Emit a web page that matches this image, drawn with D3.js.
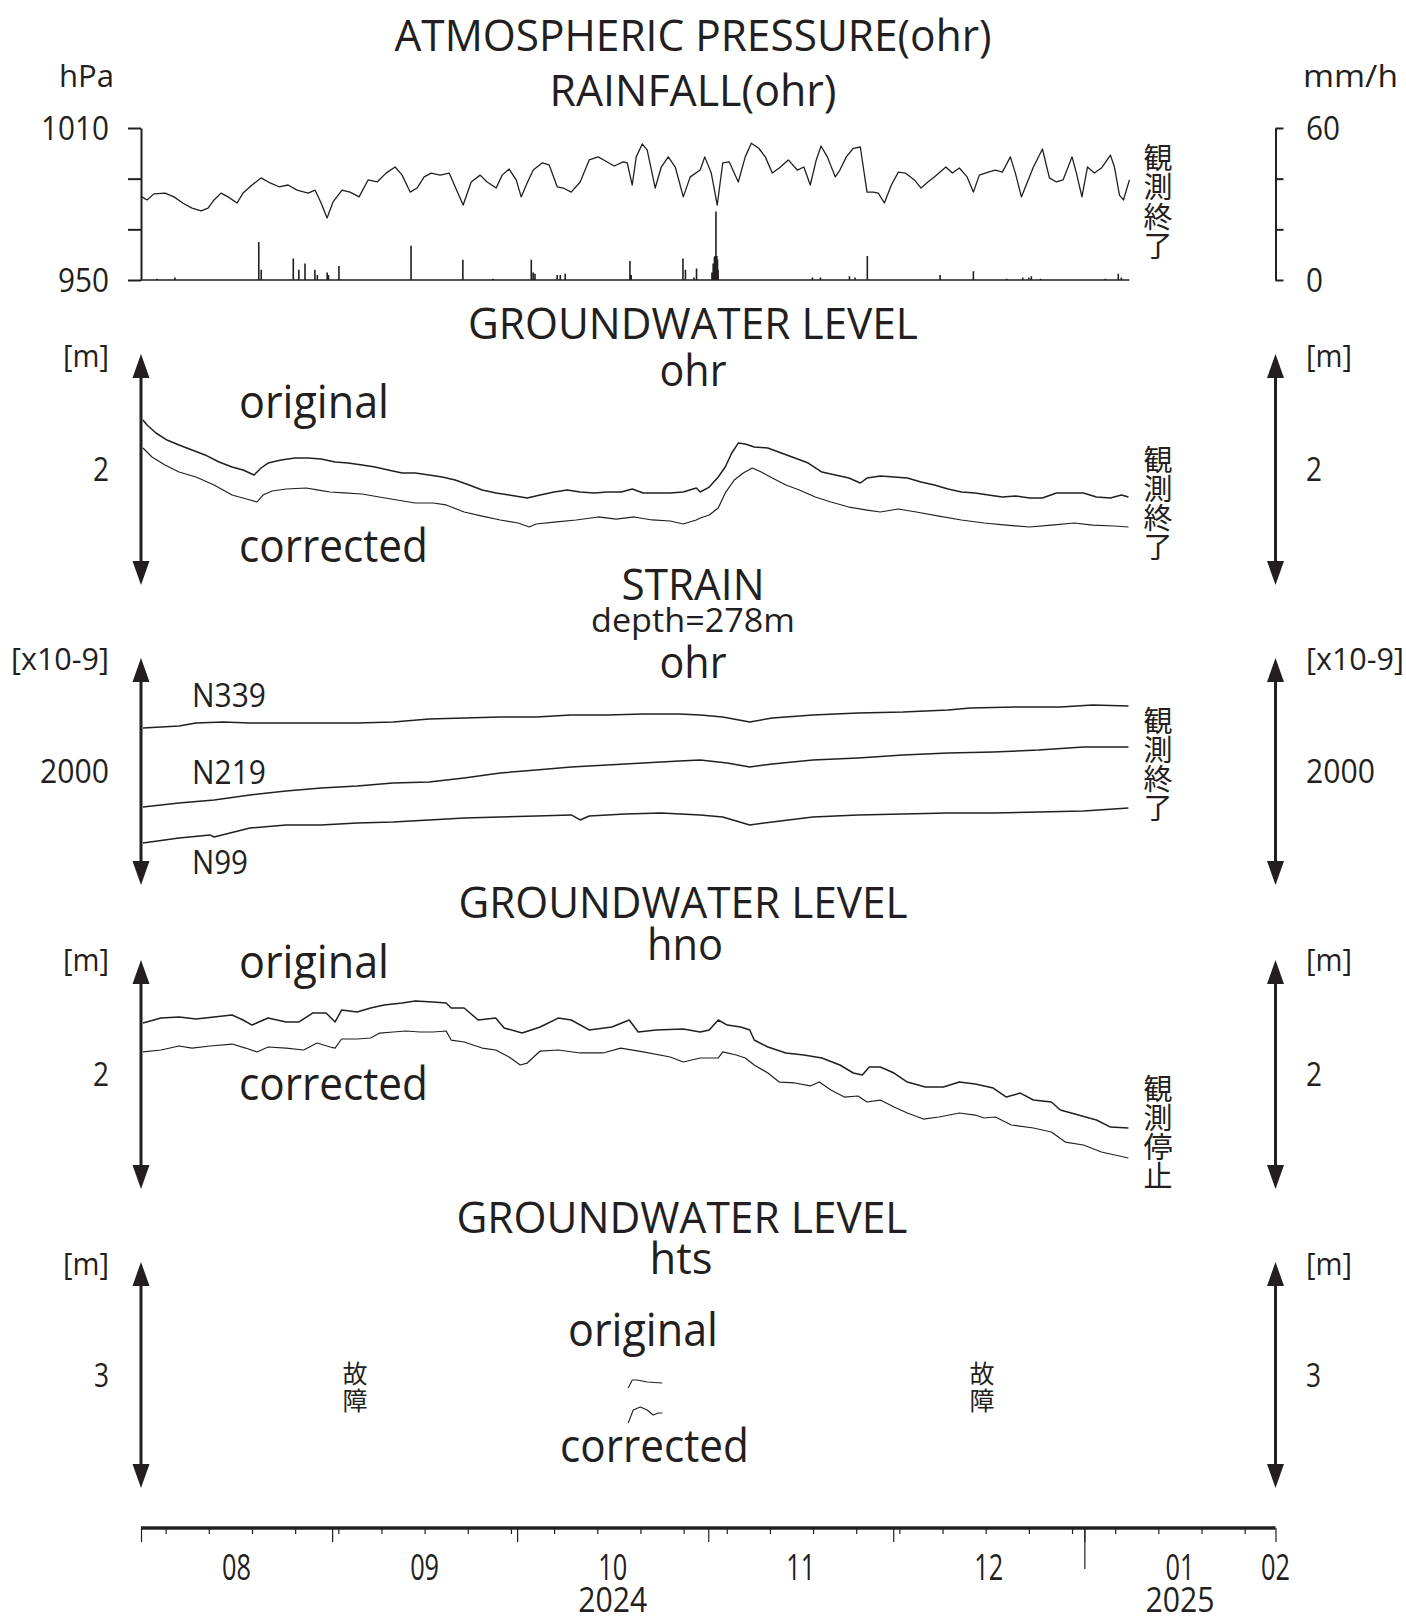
<!DOCTYPE html>
<html>
<head>
<meta charset="utf-8">
<script src="https://cdn.jsdelivr.net/npm/d3@7"></script>
<style>
  html, body { margin: 0; padding: 0; background: #fff; }
  svg { display: block; }
  text { font-family: "Open Sans", "Noto Sans", sans-serif; fill: #231f20; }
  text.cjk { font-family: "Noto Sans CJK JP", sans-serif; writing-mode: vertical-rl; text-orientation: upright; }
</style>
</head>
<body>
<svg id="chart" width="1406" height="1622"></svg>
<script>
// ---------------------------------------------------------------
// Observation records. Time is given in days elapsed since
// 2024-08-01 00:00; values are in the unit of each panel.
// ---------------------------------------------------------------
const recordStart = Date.UTC(2024, 7, 1);
const recordEndDay = 160.3;            // last sample before the station stopped

// atmospheric pressure at ohr [hPa]
const pressure = [
  [0.16,982.8],[0.97,981.6],[2.11,984.0],[3.89,984.3],[5.35,982.8],[6.82,980.3],[8.28,978.4],
  [9.74,977.3],[10.87,978.4],[11.85,981.6],[12.98,984.3],[14.12,982.8],[15.58,980.4],[16.55,984.3],
  [18.01,987.5],[19.47,990.3],[20.93,988.3],[22.39,986.8],[23.85,987.5],[25.31,985.5],[27.10,984.3],
  [28.23,985.5],[29.21,980.4],[30.18,974.5],[31.15,980.8],[32.61,985.5],[33.91,984.7],[35.37,982.8],
  [36.83,989.5],[38.29,988.7],[39.75,992.2],[41.21,994.6],[42.35,991.4],[43.65,984.7],[44.78,986.3],
  [45.92,990.7],[47.05,992.2],[48.52,991.4],[49.98,992.2],[50.95,986.8],[52.25,979.6],[53.55,988.7],
  [55.01,991.4],[56.14,988.7],[57.60,986.3],[58.58,991.4],[59.71,993.8],[60.85,989.5],[61.66,982.8],
  [62.63,988.3],[63.61,993.4],[65.07,996.2],[66.20,995.4],[67.50,986.8],[68.48,986.3],[69.77,984.7],
  [71.23,988.7],[72.69,997.4],[74.15,998.6],[75.61,996.6],[76.75,995.0],[78.21,996.6],[78.86,996.2],
  [79.67,987.5],[80.32,998.6],[81.29,1003.7],[82.10,1001.3],[83.40,986.3],[84.38,994.6],[85.51,998.6],
  [86.65,994.6],[87.95,982.8],[89.08,990.7],[90.70,993.4],[91.43,998.6],[92.49,992.2],[93.46,979.6],
  [94.35,996.2],[95.41,996.6],[96.87,988.7],[98.00,998.6],[98.98,1004.0],[100.19,1002.0],[101.25,998.6],
  [102.38,992.2],[103.52,994.2],[104.98,997.4],[106.44,993.4],[107.51,994.6],[108.55,987.5],[109.52,997.4],
  [110.29,1002.9],[111.31,998.6],[112.61,990.7],[113.35,993.4],[114.39,998.6],[115.53,1002.0],[116.66,1002.5],
  [117.75,984.7],[118.77,984.7],[119.58,984.3],[120.56,980.4],[121.70,987.5],[122.83,992.6],[123.97,992.2],
  [125.43,989.5],[126.51,986.3],[127.62,988.7],[128.67,990.7],[130.54,994.6],[131.59,992.2],[132.73,994.2],
  [133.98,990.7],[135.00,984.7],[135.97,991.4],[137.43,992.6],[138.57,993.4],[139.70,992.6],[141.00,998.6],
  [141.81,992.2],[142.79,982.8],[143.70,988.3],[144.74,994.6],[146.20,1001.7],[147.33,990.3],[148.47,988.7],
  [149.54,989.5],[151.00,998.6],[151.71,992.2],[152.61,982.8],[153.50,994.6],[154.63,992.2],[155.77,994.2],
  [157.23,999.3],[157.88,994.6],[158.69,983.5],[159.34,981.6],[160.31,989.5]
];

// hourly rainfall at ohr [mm/h], hours with rain only
const rainfall = [
  [2.6,0.5],[5.5,1.0],[19.1,15.0],[19.5,4.0],[24.7,8.5],[25.6,4.0],[26.6,6.5],[28.2,4.0],[28.6,2.0],
  [30.2,3.0],[30.4,2.0],[32.1,5.5],[43.8,13.5],[52.2,8.0],[57.1,0.5],[63.3,8.0],[63.6,3.0],[63.9,2.5],
  [67.5,2.0],[68.0,2.0],[68.8,2.5],[79.3,7.5],[79.5,2.0],[87.9,8.5],[88.3,4.0],[89.7,1.0],[90.1,4.5],
  [92.6,3.0],[92.8,6.5],[93.0,9.0],[93.1,9.5],[93.25,27.0],[93.4,9.5],[93.5,8.0],[93.6,4.0],
  [108.9,1.0],[110.2,1.0],[114.9,1.5],[115.8,1.0],[117.8,9.5],[129.6,2.0],[135.0,3.5],[140.4,0.5],
  [143.0,1.0],[144.0,1.0],[144.4,1.5],[145.9,0.5],[156.4,0.5],[158.5,2.5],[159.0,1.0]
];

// groundwater level at ohr [m, relative]
const ohrOriginal = [
  [0.32,1.429],[0.97,1.385],[2.43,1.316],[4.22,1.255],[6.17,1.212],[8.28,1.169],[10.39,1.126],[12.66,1.065],
  [14.77,1.022],[16.55,0.996],[18.34,0.952],[19.47,1.013],[20.61,1.056],[22.72,1.082],[24.99,1.100],[27.10,1.100],
  [29.21,1.091],[31.48,1.065],[33.59,1.056],[35.86,1.039],[37.97,1.022],[40.08,0.996],[42.35,0.970],[44.46,0.970],
  [46.73,0.952],[48.84,0.935],[50.95,0.909],[53.22,0.866],[55.33,0.823],[57.60,0.797],[59.71,0.779],[62.63,0.753],
  [64.74,0.779],[67.01,0.805],[69.12,0.823],[71.23,0.805],[73.50,0.797],[75.61,0.805],[77.88,0.805],[79.67,0.831],
  [81.45,0.797],[83.56,0.797],[85.83,0.797],[87.95,0.805],[90.05,0.840],[90.70,0.805],[92.16,0.848],[93.62,0.935],
  [94.76,1.022],[95.81,1.143],[96.87,1.229],[98.00,1.221],[99.46,1.195],[101.67,1.186],[103.84,1.143],[106.05,1.100],
  [108.22,1.056],[110.43,0.978],[112.61,0.952],[114.81,0.926],[116.66,0.883],[117.75,0.926],[119.91,0.944],[122.13,0.935],
  [124.29,0.926],[126.51,0.892],[128.67,0.866],[130.89,0.831],[133.05,0.805],[135.29,0.797],[137.43,0.779],[139.70,0.762],
  [141.81,0.771],[144.09,0.753],[146.20,0.753],[148.47,0.797],[150.58,0.797],[152.85,0.797],[154.96,0.762],[157.23,0.753],
  [159.02,0.779],[160.15,0.762]
];
const ohrCorrected = [
  [0.32,1.186],[1.78,1.108],[3.89,1.039],[6.17,0.978],[8.92,0.935],[11.85,0.866],[14.77,0.779],[17.69,0.736],
  [18.82,0.719],[19.80,0.779],[21.26,0.814],[23.53,0.831],[26.77,0.840],[28.56,0.823],[30.67,0.805],[32.94,0.797],
  [35.86,0.788],[38.62,0.762],[41.54,0.736],[44.46,0.710],[47.38,0.710],[49.49,0.693],[52.41,0.632],[55.33,0.597],
  [58.25,0.563],[61.17,0.537],[62.96,0.502],[64.09,0.528],[67.01,0.545],[70.58,0.563],[74.15,0.589],[77.07,0.571],
  [79.99,0.589],[82.91,0.563],[85.83,0.554],[87.95,0.528],[90.05,0.563],[90.70,0.580],[92.16,0.606],[93.62,0.667],
  [94.76,0.797],[96.22,0.909],[97.68,0.970],[99.14,1.013],[100.60,0.978],[102.38,0.926],[104.59,0.866],[106.77,0.823],
  [109.36,0.762],[111.89,0.719],[114.81,0.675],[117.75,0.649],[119.91,0.632],[122.83,0.658],[125.75,0.632],[129.43,0.597],
  [133.05,0.563],[136.75,0.537],[140.35,0.519],[144.09,0.502],[147.65,0.519],[151.38,0.537],[154.31,0.519],[157.88,0.511],
  [160.15,0.502]
];

// borehole strain at ohr, depth 278 m [x10^-9, relative]
const strainN339 = [
  [0.32,1383],[3.25,1392],[6.17,1401],[8.92,1427],[13.31,1436],[17.69,1427],[23.53,1427],[29.21,1427],
  [35.05,1427],[40.89,1436],[46.73,1463],[52.41,1471],[58.25,1480],[64.09,1480],[69.77,1498],[75.61,1498],
  [81.45,1507],[87.30,1507],[90.70,1498],[94.35,1480],[98.73,1436],[102.38,1471],[108.97,1498],[116.29,1515],
  [123.59,1524],[130.89,1542],[134.51,1559],[141.81,1568],[149.11,1568],[154.31,1586],[160.15,1577]
];
const strainN219 = [
  [0.32,687],[6.17,722],[11.85,749],[17.69,793],[23.53,828],[29.21,855],[35.05,872],[40.89,899],
  [46.73,907],[52.41,943],[58.25,987],[64.09,1013],[69.77,1040],[75.61,1057],[81.45,1075],[87.30,1093],
  [90.70,1101],[95.08,1075],[98.73,1040],[102.38,1066],[108.97,1101],[116.29,1119],[123.59,1145],[130.89,1163],
  [138.22,1172],[145.59,1189],[152.85,1216],[160.15,1216]
];
const strainN99 = [
  [0.32,370],[6.17,414],[11.20,441],[11.85,423],[17.69,502],[23.53,529],[29.21,529],[35.05,546],
  [40.89,555],[46.73,573],[52.41,590],[58.25,599],[64.09,608],[69.77,617],[71.23,573],[72.69,608],
  [78.54,626],[84.38,634],[90.70,617],[94.35,599],[98.73,529],[102.38,555],[108.97,599],[116.29,617],
  [123.59,626],[130.89,634],[138.22,634],[145.59,643],[152.85,652],[160.15,678]
];

// groundwater level at hno [m, relative]
const hnoOriginal = [
  [0.32,1.450],[3.25,1.493],[6.17,1.502],[8.92,1.485],[11.85,1.502],[14.77,1.520],[16.55,1.476],[18.01,1.432],
  [20.61,1.493],[23.53,1.459],[25.64,1.459],[27.83,1.537],[30.02,1.537],[31.48,1.459],[32.53,1.563],[35.05,1.546],
  [37.24,1.581],[39.43,1.607],[42.35,1.624],[44.46,1.642],[47.38,1.633],[49.49,1.624],[50.30,1.581],[52.41,1.581],
  [54.68,1.476],[57.52,1.493],[58.90,1.406],[61.82,1.362],[64.74,1.415],[67.66,1.493],[69.77,1.476],[72.69,1.389],
  [76.36,1.415],[79.18,1.476],[80.64,1.371],[83.56,1.389],[87.95,1.397],[90.70,1.371],[92.16,1.389],[93.62,1.476],
  [95.08,1.432],[97.27,1.415],[98.73,1.389],[99.46,1.301],[101.67,1.240],[104.59,1.188],[107.51,1.170],[110.43,1.144],
  [113.35,1.083],[115.53,1.013],[116.99,0.996],[118.12,1.066],[119.91,1.066],[122.13,1.013],[124.29,0.934],[127.21,0.891],
  [130.13,0.891],[132.73,0.934],[135.29,0.917],[138.22,0.882],[140.35,0.803],[142.62,0.838],[144.74,0.777],[147.65,0.760],
  [149.11,0.690],[152.03,0.646],[154.96,0.603],[157.23,0.541],[160.15,0.533]
];
const hnoCorrected = [
  [0.32,1.197],[3.25,1.214],[6.17,1.249],[8.28,1.231],[11.20,1.249],[14.77,1.266],[16.96,1.231],[18.82,1.197],
  [20.61,1.240],[23.53,1.231],[26.38,1.214],[28.56,1.275],[30.67,1.240],[31.48,1.231],[32.53,1.310],[35.05,1.310],
  [37.24,1.319],[38.70,1.362],[40.89,1.371],[43.00,1.380],[45.27,1.371],[47.38,1.371],[49.49,1.380],[50.30,1.301],
  [52.41,1.284],[55.33,1.231],[57.52,1.214],[59.71,1.153],[61.50,1.083],[62.63,1.100],[64.74,1.205],[67.66,1.214],
  [71.23,1.188],[74.96,1.188],[77.80,1.231],[81.45,1.197],[85.83,1.153],[87.95,1.109],[90.70,1.144],[93.62,1.144],
  [94.35,1.197],[96.54,1.170],[98.00,1.144],[99.46,1.083],[101.67,1.013],[103.52,0.934],[106.05,0.926],[108.55,0.900],
  [110.01,0.934],[111.89,0.865],[114.07,0.803],[116.29,0.812],[117.75,0.760],[119.91,0.777],[122.13,0.716],[124.29,0.664],
  [126.88,0.611],[129.43,0.629],[132.73,0.664],[135.29,0.646],[136.75,0.620],[138.57,0.629],[141.17,0.559],[144.74,0.533],
  [147.65,0.498],[149.92,0.410],[152.85,0.384],[155.77,0.323],[157.94,0.297],[160.15,0.271]
];

// groundwater level at hts [m, relative]; gauge out of order outside this window
const htsOriginal = [[79.02,1.327],[79.67,1.434],[80.48,1.434],[82.10,1.407],[84.54,1.394]];
const htsCorrected = [[79.02,0.863],[79.83,1.035],[80.97,1.075],[82.10,1.035],[83.08,0.969],[83.89,0.996],[84.54,0.996]];

// axis text
const monthLabels = ["08", "09", "10", "11", "12", "01", "02"];
const pressureTicks = [950, 970, 990, 1010];
const pressureLabels = [950, 1010];
const rainTicks = [0, 20, 40, 60];
const rainLabels = [0, 60];

// ---------------------------------------------------------------
// Scales
// ---------------------------------------------------------------
const svg = d3.select("#chart");
const ink = "#231f20";
const toDate = d => new Date(recordStart + d * 864e5);

const x = d3.scaleUtc()
  .domain([new Date(Date.UTC(2024, 7, 1)), new Date(Date.UTC(2025, 1, 1))])
  .range([141, 1275.5]);
const xLeft = x.range()[0], xRight = x.range()[1];

const yPressure = d3.scaleLinear().domain([950, 1010]).range([280, 128]);
const yRain = d3.scaleLinear().domain([0, 60]).range([280, 128]);
const yOhr = d3.scaleLinear().domain([0, 2]).range([585, 354]);
const yStrain = d3.scaleLinear().domain([0, 2000]).range([885, 658]);
const yHno = d3.scaleLinear().domain([0, 2]).range([1189, 960]);
const yHts = d3.scaleLinear().domain([0, 3]).range([1488, 1262]);

// ---------------------------------------------------------------
// Helpers
// ---------------------------------------------------------------
function label(g, s, px, py, o = {}) {
  const t = g.append("text")
    .attr("x", px).attr("y", py)
    .attr("font-size", o.size || 33)
    .attr("text-anchor", o.anchor || "start")
    .text(s);
  if (o.w) t.attr("textLength", o.w).attr("lengthAdjust", "spacingAndGlyphs");
  return t;
}

// Japanese notes set in a vertical line, top to bottom
function verticalNote(g, s, cx, top, size, pitch) {
  g.append("text").attr("class", "cjk")
    .attr("x", cx).attr("y", top)
    .attr("font-size", size)
    .style("letter-spacing", `${pitch - size}px`)
    .text(s);
}

function series(g, data, y, width = 1.15) {
  g.append("path")
    .datum(data)
    .attr("fill", "none")
    .attr("stroke", ink)
    .attr("stroke-width", width)
    .attr("stroke-linejoin", "round")
    .attr("d", d3.line().x(d => x(toDate(d[0]))).y(d => y(d[1])));
}

// double-headed scale arrow spanning the full domain of a panel scale
function scaleArrow(g, px, y) {
  const [v0, v1] = y.domain();
  const yb = y(v0), yt = y(v1);
  const head = 24, half = 8.5;
  g.append("line").attr("x1", px).attr("x2", px)
    .attr("y1", yt + head - 2).attr("y2", yb - head + 2)
    .attr("stroke", ink).attr("stroke-width", 3);
  g.append("path").attr("fill", ink)
    .attr("d", `M${px},${yt} L${px - half},${yt + head} L${px + half},${yt + head} Z`);
  g.append("path").attr("fill", ink)
    .attr("d", `M${px},${yb} L${px - half},${yb - head} L${px + half},${yb - head} Z`);
}

// unit, scale value and arrows on both sides of a panel
function scaleBar(g, y, unit, unitW, unitBase, valText, valW) {
  const mid = (y.range()[0] + y.range()[1]) / 2;
  scaleArrow(g, xLeft, y);
  scaleArrow(g, xRight, y);
  label(g, unit, 109, unitBase, { anchor: "end", w: unitW, size: 31 });
  label(g, unit, 1306, unitBase, { w: unitW, size: 31 });
  label(g, valText, 109, mid + 11.5, { anchor: "end", w: valW, size: 33 });
  label(g, valText, 1306, mid + 11.5, { w: valW, size: 33 });
}

// ---------------------------------------------------------------
// Panel 1: atmospheric pressure and rainfall
// ---------------------------------------------------------------
const p1 = svg.append("g");
label(p1, "ATMOSPHERIC PRESSURE(ohr)", 693, 51, { anchor: "middle", size: 44, w: 597 });
label(p1, "RAINFALL(ohr)", 693, 106, { anchor: "middle", size: 44, w: 287 });
label(p1, "hPa", 59, 87, { size: 31, w: 55 });
label(p1, "mm/h", 1303, 87, { size: 31, w: 95 });

const leftAxis = p1.append("g").attr("transform", `translate(${xLeft},0)`)
  .call(d3.axisLeft(yPressure).tickValues(pressureTicks).tickSize(13).tickSizeOuter(0).tickFormat(""));
const rightAxis = p1.append("g").attr("transform", `translate(${xRight},0)`)
  .call(d3.axisRight(yRain).tickValues(rainTicks).tickSize(8).tickSizeOuter(0).tickFormat(""));
[leftAxis, rightAxis].forEach(a => {
  a.selectAll("path,line").attr("stroke", ink).attr("stroke-width", 2);
});
pressureLabels.forEach(v => label(p1, String(v), 109, yPressure(v) + 12, { anchor: "end", size: 33, w: String(v).length * 17 }));
rainLabels.forEach(v => label(p1, String(v), 1306, yRain(v) + 12, { size: 33, w: String(v).length * 17 }));

// rainfall: zero line over the recording period plus one spike per hour
const rainPath = d3.path();
rainPath.moveTo(x(toDate(0)), yRain(0));
rainPath.lineTo(x(toDate(recordEndDay)), yRain(0));
rainfall.forEach(([d, v]) => {
  rainPath.moveTo(x(toDate(d)), yRain(0));
  rainPath.lineTo(x(toDate(d)), yRain(v));
});
p1.append("path").attr("d", rainPath.toString())
  .attr("fill", "none").attr("stroke", ink).attr("stroke-width", 1.6);

series(p1, pressure, yPressure, 1.3);
verticalNote(p1, "観測終了", 1158, 143, 29, 29.5);

// ---------------------------------------------------------------
// Panel 2: groundwater level, ohr
// ---------------------------------------------------------------
const p2 = svg.append("g");
label(p2, "GROUNDWATER LEVEL", 693, 339, { anchor: "middle", size: 44, w: 450 });
label(p2, "ohr", 693, 386, { anchor: "middle", size: 44, w: 67 });
scaleBar(p2, yOhr, "[m]", 46, 367, "2", 16);
label(p2, "original", 239, 418, { size: 45, w: 150 });
label(p2, "corrected", 239, 562, { size: 45, w: 189 });
series(p2, ohrOriginal, yOhr, 1.5);
series(p2, ohrCorrected, yOhr, 1.2);
verticalNote(p2, "観測終了", 1158, 445, 29, 29);

// ---------------------------------------------------------------
// Panel 3: strain, ohr
// ---------------------------------------------------------------
const p3 = svg.append("g");
label(p3, "STRAIN", 693, 600, { anchor: "middle", size: 44, w: 143 });
label(p3, "depth=278m", 693, 632, { anchor: "middle", size: 32, w: 204 });
label(p3, "ohr", 693, 678, { anchor: "middle", size: 44, w: 67 });
scaleBar(p3, yStrain, "[x10-9]", 98, 670, "2000", 69);
label(p3, "N339", 192, 707, { size: 33, w: 74 });
label(p3, "N219", 192, 784, { size: 33, w: 74 });
label(p3, "N99", 192, 874, { size: 33, w: 56 });
series(p3, strainN339, yStrain, 1.45);
series(p3, strainN219, yStrain, 1.45);
series(p3, strainN99, yStrain, 1.45);
verticalNote(p3, "観測終了", 1158, 706, 29, 29);

// ---------------------------------------------------------------
// Panel 4: groundwater level, hno
// ---------------------------------------------------------------
const p4 = svg.append("g");
label(p4, "GROUNDWATER LEVEL", 683, 918, { anchor: "middle", size: 44, w: 449 });
label(p4, "hno", 685, 960, { anchor: "middle", size: 44, w: 76 });
scaleBar(p4, yHno, "[m]", 46, 971, "2", 16);
label(p4, "original", 239, 978, { size: 45, w: 150 });
label(p4, "corrected", 239, 1100, { size: 45, w: 189 });
series(p4, hnoOriginal, yHno, 1.5);
series(p4, hnoCorrected, yHno, 1.2);
verticalNote(p4, "観測停止", 1158, 1074, 29, 29);

// ---------------------------------------------------------------
// Panel 5: groundwater level, hts
// ---------------------------------------------------------------
const p5 = svg.append("g");
label(p5, "GROUNDWATER LEVEL", 682, 1233, { anchor: "middle", size: 44, w: 451 });
label(p5, "hts", 681, 1274, { anchor: "middle", size: 44, w: 63 });
scaleBar(p5, yHts, "[m]", 46, 1275, "3", 15);
label(p5, "original", 568, 1346, { size: 45, w: 150 });
label(p5, "corrected", 560, 1462, { size: 45, w: 189 });
series(p5, htsOriginal, yHts, 1.1);
series(p5, htsCorrected, yHts, 1.1);
verticalNote(p5, "故障", 355, 1361, 25, 27);
verticalNote(p5, "故障", 982, 1361, 25, 27);

// ---------------------------------------------------------------
// Time axis
// ---------------------------------------------------------------
const axisY = 1528;
const ax = svg.append("g").attr("transform", `translate(0,${axisY})`);
const [t0, t1] = x.domain();
const weeks = d3.utcMonday.range(t0, t1);
const months = d3.utcMonth.range(t0, d3.utcDay.offset(t1, 1));
const years = d3.utcYear.range(d3.utcDay.offset(t0, 1), t1);

ax.append("g").call(d3.axisBottom(x).tickValues(weeks).tickSize(6).tickSizeOuter(0).tickFormat(""))
  .call(g => g.select(".domain").remove());
ax.append("g").call(d3.axisBottom(x).tickValues(months).tickSize(14).tickSizeOuter(0).tickFormat(""))
  .call(g => g.select(".domain").remove());
ax.append("g").call(d3.axisBottom(x).tickValues(years).tickSize(41).tickSizeOuter(0).tickFormat(""))
  .call(g => g.select(".domain").remove());
ax.selectAll(".tick line").attr("stroke", ink).attr("stroke-width", 1.2);
ax.append("line").attr("x1", xLeft).attr("x2", xRight).attr("y1", 0).attr("y2", 0)
  .attr("stroke", ink).attr("stroke-width", 3.5);

// month numbers in the middle of each month; the closing month at its first day
const monthCentre = months.map((m, i) => i < months.length - 1
  ? new Date((+m + +months[i + 1]) / 2) : m);
monthLabels.forEach((s, i) => {
  label(svg, s, x(monthCentre[i]), axisY + 52, { anchor: "middle", size: 36, w: 29 });
});

// each year label sits under the middle one of its labelled months
const yearGroups = d3.groups(months.slice(0, -1).map((m, i) => ({ m, c: monthCentre[i] })),
  d => d.m.getUTCFullYear());
yearGroups.forEach(([yr, ms]) => {
  const c = ms[Math.floor((ms.length - 1) / 2)].c;
  label(svg, String(yr), x(c), axisY + 84, { anchor: "middle", size: 34, w: 69 });
});
</script>
</body>
</html>
